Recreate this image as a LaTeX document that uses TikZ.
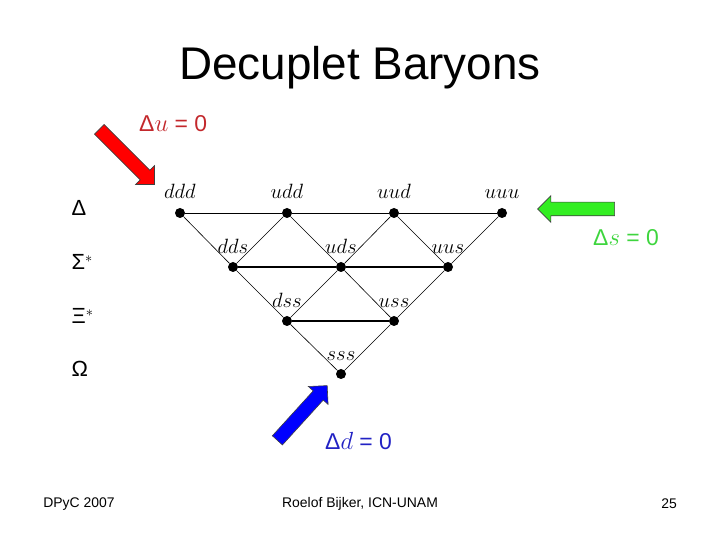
\documentclass[tikz,border=0pt]{standalone}
\usepackage{fontspec}
\setmainfont{Liberation Sans}
\usetikzlibrary{shapes.arrows}

\definecolor{redtext}{HTML}{C3282C}
\definecolor{greentext}{HTML}{3ED53E}
\definecolor{bluetext}{HTML}{2222C4}
\definecolor{arrowgreen}{HTML}{33EE22}

\begin{document}
\begin{tikzpicture}[x=1bp, y=1bp,
    dot/.style={circle, fill=black, inner sep=0pt, minimum size=10bp},
    qlabel/.style={font=\fontsize{20.5}{24}\selectfont, inner sep=0pt},
    rowlabel/.style={font=\fontsize{22}{26}\selectfont, anchor=west},
    fatarrow/.style={single arrow, draw=black!75, line width=0.6pt,
                     inner xsep=0pt, inner ysep=6.5bp, minimum width=0pt,
                     single arrow head extend=6.5bp,
                     single arrow head indent=0pt},
    cond/.style={font=\fontsize{23}{27}\selectfont, inner sep=0pt},
    foot/.style={font=\fontsize{14}{17}\selectfont}
]
\useasboundingbox (0,0) rectangle (720,540);

\node[font=\fontsize{46}{52}\selectfont] (title) at (360,472) {Decuplet Baryons};

% multiplet rows
\node[rowlabel] (delta) at (68,332) {Δ};
\node[rowlabel] (sigma) at (68,278) {Σ$^*$};
\node[rowlabel] (xi)    at (68,224) {Ξ$^*$};
\node[rowlabel] (omega) at (68,171) {Ω};

% quark states
\node[dot, label={[qlabel, yshift=9bp]above:$ddd$}] (ddd) at (180,327) {};
\node[dot, label={[qlabel, yshift=9bp]above:$udd$}] (udd) at (287,327) {};
\node[dot, label={[qlabel, yshift=9bp]above:$uud$}] (uud) at (394,327) {};
\node[dot, label={[qlabel, yshift=9bp]above:$uuu$}] (uuu) at (502,327) {};
\node[dot, label={[qlabel, yshift=8bp]above:$dds$}] (dds) at (233,273) {};
\node[dot, label={[qlabel, yshift=8bp]above:$uds$}] (uds) at (341,273) {};
\node[dot, label={[qlabel, yshift=8bp]above:$uus$}] (uus) at (448,273) {};
\node[dot, label={[qlabel, yshift=8bp]above:$dss$}] (dss) at (287,219) {};
\node[dot, label={[qlabel, yshift=8bp]above:$uss$}] (uss) at (394,219) {};
\node[dot, label={[qlabel, yshift=8bp]above:$sss$}] (sss) at (341,166) {};

\draw[line width=0.7pt] (ddd) -- (udd) -- (uud) -- (uuu);
\draw[line width=1.4pt] (dds) -- (uds) -- (uus);
\draw[line width=1.4pt] (dss) -- (uss);
\draw[line width=0.6pt] (ddd) -- (dds) -- (dss) -- (sss);
\draw[line width=0.6pt] (udd) -- (uds) -- (uss);
\draw[line width=0.6pt] (uud) -- (uus);
\draw[line width=0.6pt] (uuu) -- (uus) -- (uss) -- (sss);
\draw[line width=0.6pt] (uud) -- (uds) -- (dss);
\draw[line width=0.6pt] (udd) -- (dds);

% conserved quark numbers
\node[fatarrow, fill=red, minimum height=78bp, rotate=-45] (uarrow) at (124.5,385.5) {};
\node[fatarrow, fill=arrowgreen, minimum height=77bp, rotate=180] (sarrow) at (579.5,331) {};
\node[fatarrow, fill=blue, minimum height=74bp, rotate=47.7] (darrow) at (300,124.5) {};

\node[cond, text=redtext, anchor=west] (ucond) at (139,416) {Δ$u$ = 0};
\node[cond, text=greentext, anchor=west] (scond) at (593,302) {Δ$s$ = 0};
\node[cond, text=bluetext, anchor=west] (dcond) at (325,99) {Δ$d$ = 0};

% footer
\node[foot] (event)  at (79,36)  {DPyC 2007};
\node[foot] (author) at (360,36) {Roelof Bijker, ICN-UNAM};
\node[foot] (page)   at (669,36) {25};
\end{tikzpicture}
\end{document}
